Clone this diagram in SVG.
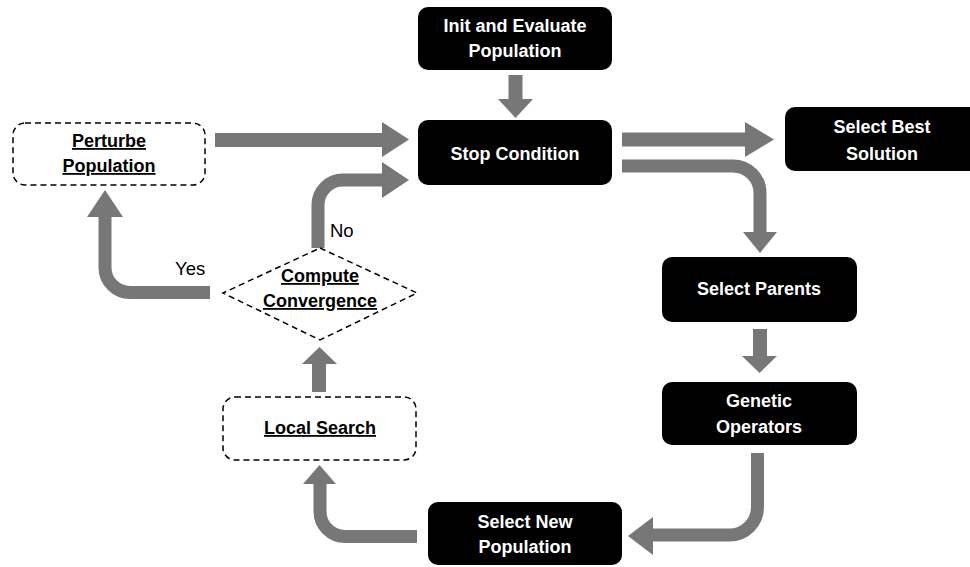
<svg xmlns="http://www.w3.org/2000/svg" width="970" height="567" viewBox="0 0 970 567">
<style>
.box{fill:#000;stroke:none}
.dbox{fill:#fff;stroke:#000;stroke-width:1.5;stroke-dasharray:6 4}
.wt{fill:#fff;font-family:"Liberation Sans",Arial,sans-serif;font-weight:bold;font-size:18px;text-anchor:middle}
.bt{fill:#000;font-family:"Liberation Sans",Arial,sans-serif;font-weight:bold;font-size:18px;text-anchor:middle;text-decoration:underline}
.lbl{fill:#000;font-family:"Liberation Sans",Arial,sans-serif;font-size:18.5px}
.shaft{fill:none;stroke:#777;stroke-width:14}
.cshaft{fill:none;stroke:#777;stroke-width:13}
.head{fill:#777}
</style>
<rect width="970" height="567" fill="#fff"/>
<g id="connectors">
  <path class="shaft" d="M515.5 75 V100"/>
  <polygon class="head" points="498,99 533,99 515.5,118"/>
  <path class="shaft" d="M622 139.5 H747"/>
  <polygon class="head" points="745,122 745,157 774,139.5"/>
  <path class="cshaft" d="M622 166 H733 A27 27 0 0 1 760 193 V234"/>
  <polygon class="head" points="743,232 777,232 760,253"/>
  <path class="shaft" d="M760 329 V358"/>
  <polygon class="head" points="742,356 777,356 759.5,373"/>
  <path class="cshaft" d="M757.5 453 V507 A28 28 0 0 1 729.5 535 H651"/>
  <polygon class="head" points="653,517 653,555 628,536"/>
  <path class="cshaft" d="M417 536.5 H345 A25 25 0 0 1 320 511.5 V481"/>
  <polygon class="head" points="303,484 336,484 319.5,465"/>
  <path class="shaft" d="M319 392 V361"/>
  <polygon class="head" points="302,364 337,364 319.5,347"/>
  <path class="cshaft" d="M318 248 V205 A25 25 0 0 1 343 180 H384"/>
  <polygon class="head" points="382,162 382,198 409,180"/>
  <path class="cshaft" d="M210 292.5 H130 A25 25 0 0 1 105 267.5 V214"/>
  <polygon class="head" points="87,217 123,217 105,190"/>
  <path class="shaft" d="M215 140 H384"/>
  <polygon class="head" points="382,122 382,157 409,139.5"/>
  <text class="lbl" x="175" y="275">Yes</text>
  <text class="lbl" x="330" y="237">No</text>
</g>
<g id="init">
  <rect class="box" x="418" y="7" width="194" height="63" rx="10"/>
  <text class="wt" x="515" y="32">Init and Evaluate</text>
  <text class="wt" x="515" y="57">Population</text>
</g>
<g id="stop">
  <rect class="box" x="418" y="120" width="194" height="65" rx="10"/>
  <text class="wt" x="515" y="160">Stop Condition</text>
</g>
<g id="best">
  <rect class="box" x="785" y="107" width="195" height="64" rx="10"/>
  <text class="wt" x="882" y="133">Select Best</text>
  <text class="wt" x="882" y="160">Solution</text>
</g>
<g id="parents">
  <rect class="box" x="662" y="257" width="195" height="65" rx="10"/>
  <text class="wt" x="759" y="295">Select Parents</text>
</g>
<g id="genetic">
  <rect class="box" x="662" y="382" width="195" height="63" rx="10"/>
  <text class="wt" x="759" y="407">Genetic</text>
  <text class="wt" x="759" y="433">Operators</text>
</g>
<g id="selectnew">
  <rect class="box" x="428" y="502" width="194" height="63" rx="10"/>
  <text class="wt" x="525" y="528">Select New</text>
  <text class="wt" x="525" y="553">Population</text>
</g>
<g id="localsearch">
  <rect class="dbox" x="223" y="397" width="193" height="63" rx="12"/>
  <text class="bt" x="320" y="434">Local Search</text>
</g>
<g id="compute">
  <polygon class="dbox" points="320,248 417,293 320,340 223,293"/>
  <text class="bt" x="320" y="282">Compute</text>
  <text class="bt" x="320" y="307">Convergence</text>
</g>
<g id="perturbe">
  <rect class="dbox" x="13" y="123" width="192" height="62" rx="12"/>
  <text class="bt" x="109" y="147">Perturbe</text>
  <text class="bt" x="109" y="172">Population</text>
</g>
</svg>
